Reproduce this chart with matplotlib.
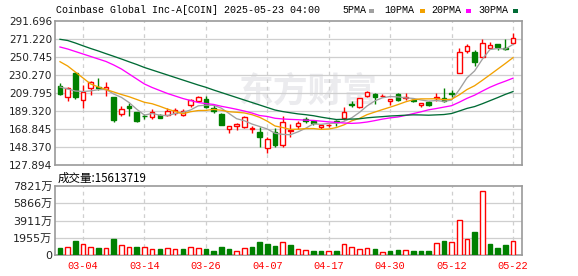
import numpy as np
import pandas as pd
import matplotlib
matplotlib.use("Agg")
import matplotlib.pyplot as plt
from matplotlib.patches import Rectangle

# ---------------- data ----------------
dates = ["02-27", "02-28", "03-03", "03-04", "03-05", "03-06", "03-07", "03-10", "03-11", "03-12",
         "03-13", "03-14", "03-17", "03-18", "03-19", "03-20", "03-21", "03-24", "03-25", "03-26",
         "03-27", "03-28", "03-31", "04-01", "04-02", "04-03", "04-04", "04-07", "04-08", "04-09",
         "04-10", "04-11", "04-14", "04-15", "04-16", "04-17", "04-21", "04-22", "04-23", "04-24",
         "04-25", "04-28", "04-29", "04-30", "05-01", "05-02", "05-05", "05-06", "05-07", "05-08",
         "05-09", "05-12", "05-13", "05-14", "05-15", "05-16", "05-19", "05-20", "05-21", "05-22"]

opens = [217.76, 205.59, 232.89, 201.83, 215.82, 216.62, 214.35, 204.90, 185.91, 195.35,
         187.84, 183.98, 182.15, 184.43, 185.11, 186.48, 184.77, 196.15, 201.04, 202.63,
         193.08, 185.91, 169.19, 172.60, 170.78, 169.19, 165.78, 146.89, 165.43, 150.08,
         166.57, 172.26, 180.22, 178.10, 171.12, 172.83, 177.38, 181.01, 197.28, 194.21,
         206.04, 208.66, 206.04, 200.69, 208.43, 204.33, 202.06, 195.58, 198.99, 204.67,
         203.76, 209.45, 232.20, 257.91, 256.09, 250.40, 260.64, 265.31, 260.98, 266.33]
highs = [220.83, 216.96, 233.68, 218.90, 223.45, 226.52, 222.31, 205.81, 195.01, 198.76,
         188.52, 185.91, 191.26, 185.57, 192.17, 192.73, 191.03, 202.63, 206.72, 206.38,
         196.15, 187.05, 172.60, 175.67, 183.98, 172.60, 171.46, 160.09, 169.98, 183.63,
         173.97, 178.29, 182.15, 179.60, 173.74, 174.53, 179.65, 193.53, 200.35, 204.67,
         212.07, 209.45, 208.31, 203.31, 209.45, 209.45, 203.76, 198.76, 201.04, 210.14,
         214.92, 213.21, 260.64, 265.31, 258.71, 270.99, 267.47, 265.31, 271.22, 278.05]
lows = [207.52, 201.04, 203.31, 193.08, 207.86, 213.21, 206.95, 177.15, 183.98, 183.98,
        177.15, 180.22, 180.22, 180.79, 183.63, 184.77, 183.07, 193.87, 199.22, 193.08,
        187.39, 172.83, 163.96, 167.71, 169.64, 164.30, 148.37, 141.89, 148.37, 148.71,
        159.75, 168.50, 176.01, 173.50, 169.19, 171.12, 172.26, 179.08, 194.21, 193.30,
        205.24, 197.28, 204.90, 196.15, 201.04, 202.40, 199.22, 194.21, 195.01, 201.04,
        199.56, 205.24, 232.20, 254.95, 240.85, 250.40, 259.62, 258.37, 258.37, 265.31]
closes = [208.66, 215.14, 204.90, 210.37, 221.97, 215.48, 216.28, 179.08, 191.26, 192.39,
          177.38, 183.07, 188.52, 181.36, 189.66, 190.12, 189.32, 201.83, 204.90, 193.87,
          188.98, 173.40, 171.69, 174.88, 182.50, 169.98, 159.41, 157.47, 150.65, 176.24,
          167.71, 176.01, 177.95, 175.80, 173.05, 173.62, 176.46, 188.75, 196.15, 203.76,
          210.37, 204.90, 206.72, 202.97, 201.83, 205.24, 201.26, 198.08, 196.15, 205.47,
          200.35, 208.66, 257.00, 263.26, 245.40, 266.33, 264.40, 262.46, 260.30, 272.02]

# volume in 万 shares, and whether the volume bar is red (up vs previous close)
volumes = [793, 873, 1587, 1213, 873, 793, 793, 1814, 1099, 873,
           907, 873, 646, 680, 759, 646, 680, 873, 759, 680,
           453, 907, 680, 453, 759, 907, 1474, 1281, 1020, 1474,
           1134, 646, 567, 453, 453, 453, 453, 1247, 907, 646,
           759, 680, 306, 453, 567, 567, 453, 453, 453, 1326,
           1587, 1474, 3967, 1814, 2607, 7254, 1247, 793, 1134, 1561]
vol_up = [0, 1, 0, 1, 1, 0, 1, 0, 1, 1,
          0, 1, 1, 0, 1, 1, 0, 1, 1, 0,
          0, 0, 0, 1, 1, 0, 0, 0, 0, 1,
          0, 1, 1, 0, 0, 1, 0, 1, 1, 1,
          1, 0, 1, 0, 0, 1, 0, 0, 0, 1,
          0, 1, 1, 1, 0, 1, 0, 0, 0, 1]

# moving-average values at the start of the window (need data before 02-27)
ma5_head = [216.62, 214.35, 212.07, 211.50]
ma10_head = [245.40, 240.50, 233.68, 226.86, 220.03, 216.62, 213.78, 210.94, 208.09]
ma20_head = [262.12, 259.85, 257.00, 254.16, 251.32, 248.47, 245.63, 241.65, 237.10, 231.41,
             225.72, 220.03, 216.05, 212.64, 209.23, 206.38, 203.54, 201.27, 198.99]
ma30_head = [270.88, 269.51, 266.67, 263.48, 260.41, 257.57, 254.50, 251.54, 248.47, 245.28,
             242.21, 238.80, 235.96, 233.11, 230.27, 227.42, 224.58, 221.74, 218.89, 216.28,
             213.21, 210.36, 207.52, 204.67, 201.83, 198.99, 196.15, 193.30, 190.46]

price_ticks = ["127.894", "148.370", "168.845", "189.320", "209.795",
               "230.270", "250.745", "271.220", "291.696"]
vol_ticks = ["0", "1955万", "3911万", "5866万", "7821万"]
xtick_dates = ["03-04", "03-14", "03-26", "04-07", "04-17", "04-30", "05-12", "05-22"]

title = "Coinbase Global Inc-A[COIN] 2025-05-23 04:00"
vol_title = "成交量:15613719"
ma_names = ["5PMA", "10PMA", "20PMA", "30PMA"]

# ---------------- styling ----------------
RED = "#ff0000"
GREEN = "#008000"
GRID = "#cfcfcf"
BORDER = "#9a9a9a"
ma_colors = ["#a0a0a0", "#f2a100", "#ff00ff", "#006b35"]
MONO = "Liberation Mono"
CJK = ["DejaVu Sans", "Noto Sans CJK SC"]

W, H = 578, 276
fig = plt.figure(figsize=(W / 100, H / 100), dpi=100)
fig.patch.set_facecolor("white")

L, R = 55, 522
ax = fig.add_axes([L / W, 1 - 165 / H, (R - L) / W, 144 / H])
axv = fig.add_axes([L / W, 1 - 255 / H, (R - L) / W, 69 / H])

x = np.arange(len(dates))
o = np.array(opens); h = np.array(highs); lo = np.array(lows); c = np.array(closes)

def moving(n, head):
    m = pd.Series(closes).rolling(n).mean().to_numpy()
    m[:len(head)] = head
    return m

mas = [moving(5, ma5_head), moving(10, ma10_head), moving(20, ma20_head), moving(30, ma30_head)]

xlim = (-0.65, 60.17)
ymin, ymax = float(price_ticks[0]), float(price_ticks[-1])
tick_pos = [dates.index(d) for d in xtick_dates]

for a in (ax, axv):
    a.set_xlim(*xlim)
    for s in a.spines.values():
        s.set_color(BORDER)
        s.set_linewidth(1.2)
    for t in tick_pos:
        a.axvline(t, color=GRID, lw=0.9, ls=(0, (3, 3)), zorder=0.6)

# ---------- price panel ----------
ax.set_ylim(ymin, ymax)
pt = [float(v) for v in price_ticks]
for v in pt[1:-1]:
    ax.axhline(v, color=GRID, lw=0.9, zorder=0.6)
ax.set_yticks(pt)
ax.set_yticklabels(price_ticks, fontsize=7.6, family="DejaVu Sans", color="#222222")
ax.set_xticks([])
ax.tick_params(axis="y", length=0, pad=2)

ax.text(0.542, 0.515, "东方财富", transform=ax.transAxes, fontsize=25,
        family="Noto Sans CJK SC", fontweight="bold", color="#ebebee",
        ha="center", va="center", zorder=0.5)

up = c >= o
bot = np.minimum(o, c)
hgt = np.maximum(np.abs(c - o), 0.25)
ax.vlines(x, lo, h, colors=np.where(up, RED, GREEN), lw=1.0, zorder=2)
ax.bar(x, hgt, bottom=bot, width=0.6,
       color=np.where(up, "white", GREEN), edgecolor=np.where(up, RED, GREEN),
       linewidth=1.0, zorder=3)

for m, col in zip(mas, ma_colors):
    ax.plot(x, m, color=col, lw=0.95, zorder=4)

# ---------- volume panel ----------
vmax = float(vol_ticks[-1].replace("万", ""))
axv.set_ylim(0, vmax)
vt = np.linspace(0, vmax, len(vol_ticks))
for v in vt[1:-1]:
    axv.axhline(v, color=GRID, lw=0.9, zorder=0.6)
axv.set_yticks(vt)
axv.set_yticklabels(vol_ticks, fontsize=8, family=CJK, color="#222222")
axv.tick_params(axis="y", length=0, pad=2)
vu = np.array(vol_up, dtype=bool)
axv.bar(x, volumes, width=0.6, color=np.where(vu, "white", GREEN),
        edgecolor=np.where(vu, RED, GREEN), linewidth=1.0, zorder=3)
axv.set_xticks(tick_pos)
axv.set_xticklabels(xtick_dates, fontsize=7.4, family=MONO, color=RED)
axv.tick_params(axis="x", length=0, pad=4.5)

# ---------- texts ----------
FS_T = 7.2
fig.text(56 / W, 1 - 10 / H, title, fontsize=FS_T, family=MONO, va="center", ha="left")
leg_x = [342, 384, 431, 478]
sq_x = [369, 420, 466, 513]
for name, lx, sx, col in zip(ma_names, leg_x, sq_x, ma_colors):
    fig.text(lx / W, 1 - 10 / H, name, fontsize=FS_T, family=MONO, va="center", ha="left")
    fig.add_artist(Rectangle((sx / W, 1 - 12.5 / H), 5 / W, 4 / H, transform=fig.transFigure,
                             facecolor=col, edgecolor="none"))
fig.text(58 / W, 1 - 178 / H, vol_title, fontsize=8.3, family=["Noto Sans CJK SC"],
         va="center", ha="left")

fig.savefig("out.png", dpi=100)
